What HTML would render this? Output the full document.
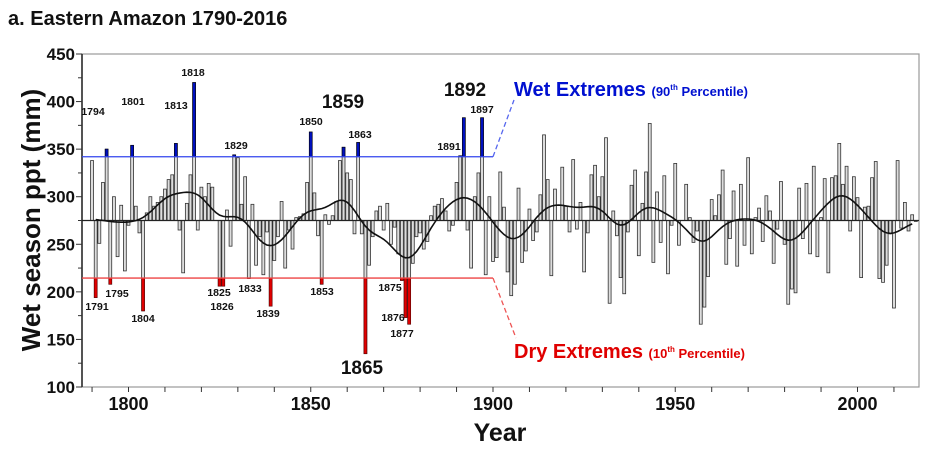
<!DOCTYPE html>
<html><head><meta charset="utf-8"><style>
body{margin:0;background:#fff;width:940px;height:450px;overflow:hidden}
svg{font-family:"Liberation Sans",Arial,sans-serif;font-weight:bold}
</style></head><body>
<svg id="s" width="940" height="450" xmlns="http://www.w3.org/2000/svg"></svg>
<script>
(function(){
var v={1790:338,1791:194,1792:251,1793:315,1794:350,1795:208,1796:300,1797:237,1798:291,1799:222,1800:270,1801:354,1802:290,1803:262,1804:180,1805:283,1806:300,1807:290,1808:294,1809:300,1810:308,1811:318,1812:323,1813:356,1814:265,1815:220,1816:293,1817:323,1818:420,1819:265,1820:310,1821:300,1822:314,1823:310,1824:275,1825:206,1826:206,1827:286,1828:248,1829:344,1830:341,1831:292,1832:321,1833:214,1834:292,1835:228,1836:258,1837:218,1838:263,1839:185,1840:233,1841:258,1842:295,1843:225,1844:265,1845:245,1846:278,1847:279,1848:282,1849:315,1850:368,1851:304,1852:259,1853:208,1854:281,1855:271,1856:280,1857:295,1858:338,1859:352,1860:325,1861:318,1862:261,1863:357,1864:261,1865:135,1866:228,1867:258,1868:285,1869:290,1870:265,1871:293,1872:250,1873:268,1874:240,1875:212,1876:173,1877:166,1878:230,1879:258,1880:262,1881:245,1882:253,1883:280,1884:290,1885:292,1886:298,1887:285,1888:264,1889:270,1890:315,1891:343,1892:383,1893:265,1894:225,1895:300,1896:325,1897:383,1898:218,1899:300,1900:232,
1901:236,1902:326,1903:289,1904:221,1905:196,1906:208,1907:309,1908:231,1909:243,1910:287,1911:254,1912:263,1913:302,1914:365,1915:318,1916:217,1917:308,1918:275,1919:331,1920:290,1921:263,1922:339,1923:266,1924:294,1925:221,1926:262,1927:323,1928:333,1929:300,1930:321,1931:362,1932:188,1933:285,1934:259,1935:215,1936:198,1937:263,1938:312,1939:328,1940:238,1941:293,1942:326,1943:377,1944:231,1945:305,1946:252,1947:322,1948:219,1949:270,1950:335,1951:249,1952:275,1953:313,1954:278,1955:252,1956:264,1957:166,
1958:184,1959:216,1960:297,1961:280,1962:302,1963:328,1964:229,1965:256,1966:306,1967:227,1968:313,1969:249,1970:341,1971:240,1972:278,1973:288,1974:253,1975:301,1976:285,1977:230,1978:266,1979:316,1980:250,1981:187,1982:203,1983:199,1984:309,1985:256,1986:314,1987:240,1988:332,1989:237,1990:278,1991:319,1992:220,1993:320,1994:322,1995:356,1996:313,1997:332,1998:264,1999:321,2000:299,2001:215,2002:289,2003:290,2004:320,2005:337,2006:214,2007:210,2008:228,2009:261,2010:183,2011:338,2012:267,2013:294,2014:264,2015:281,2016:274};
function X(y){return 128.5+3.645*(y-1800)}
function Y(m){return 54+(450-m)*0.9514}
var h='';
h+='<rect x="82" y="54" width="837" height="333" fill="none" stroke="#999" stroke-width="1.2"/>';
h+='<line x1="82" y1="54" x2="82" y2="387" stroke="#222" stroke-width="1.5"/>';
for(var m=100;m<=450;m+=25){var yy=Y(m);h+='<line x1="'+(m%50?78:76)+'" y1="'+yy+'" x2="82" y2="'+yy+'" stroke="#333"/>';
if(m%50==0)h+='<text x="75" y="'+(yy+6)+'" font-size="17" text-anchor="end" fill="#111">'+m+'</text>';}
for(var yr=1790;yr<=2010;yr+=10){var xx=X(yr);h+='<line x1="'+xx+'" y1="387" x2="'+xx+'" y2="392" stroke="#333"/>';
if(yr%50==0)h+='<text x="'+xx+'" y="410" font-size="18" text-anchor="middle" fill="#111">'+yr+'</text>';}
var base=Y(275),tb=Y(342),tr=Y(214.5);
for(var yr=1790;yr<=2016;yr++){var m=v[yr],bx=X(yr)-1.45,w=2.9,yt=Y(m);
var bt=Math.min(yt,base),ht=Math.abs(yt-base);
h+='<rect x="'+bx+'" y="'+bt+'" width="'+w+'" height="'+ht+'" fill="#ddd" stroke="#333" stroke-width="0.8"/>';
if(yr<=1900&&m>342)h+='<rect x="'+bx+'" y="'+yt+'" width="'+w+'" height="'+(tb-yt)+'" fill="#0010c0" stroke="#001" stroke-width="0.6"/>';
if(yr<=1900&&m<214.5)h+='<rect x="'+bx+'" y="'+tr+'" width="'+w+'" height="'+(yt-tr)+'" fill="#e00000" stroke="#600" stroke-width="0.6"/>';}
h+='<line x1="82" y1="'+base+'" x2="919" y2="'+base+'" stroke="#222" stroke-width="1.2"/>';
h+='<line x1="82" y1="'+tb+'" x2="493" y2="'+tb+'" stroke="#3344ee" stroke-width="1.3"/>';
h+='<line x1="82" y1="'+tr+'" x2="493" y2="'+tr+'" stroke="#ee4444" stroke-width="1.3"/>';
h+='<line x1="493" y1="'+tb+'" x2="514" y2="100" stroke="#5566ee" stroke-width="1.3" stroke-dasharray="5,3"/>';
h+='<line x1="493" y1="'+tr+'" x2="516" y2="338" stroke="#ee5555" stroke-width="1.3" stroke-dasharray="5,3"/>';
var pts=[];for(var yr=1791;yr<=2015;yr++){var s=0,ws=0;for(var k=-12;k<=12;k++){var q=v[yr+k];if(q===undefined)continue;var wt=Math.exp(-k*k/(2*16));s+=q*wt;ws+=wt;}pts.push(X(yr).toFixed(1)+','+Y(s/ws).toFixed(1));}
h+='<polyline points="'+pts.join(' ')+'" fill="none" stroke="#111" stroke-width="1.6"/>';
var L=[[1818,193,76],[1794,93,115],[1801,133,105],[1813,176,109],[1829,236,149],[1850,311,125],[1863,360,138],[1891,449,150],[1897,482,113],[1791,97,310],[1795,117,297],[1804,143,322],[1825,219,296],[1826,222,310],[1833,250,292],[1839,268,317],[1853,322,295],[1875,390,291],[1876,393,321],[1877,402,337]];
L.forEach(function(a){h+='<text x="'+a[1]+'" y="'+a[2]+'" font-size="10.5" text-anchor="middle" fill="#111">'+a[0]+'</text>';});
h+='<text x="343" y="108" font-size="19" text-anchor="middle" fill="#111">1859</text>';
h+='<text x="465" y="96" font-size="19" text-anchor="middle" fill="#111">1892</text>';
h+='<text x="362" y="374" font-size="19" text-anchor="middle" fill="#111">1865</text>';
h+='<text x="514" y="96" font-size="20" fill="#0010d0">Wet Extremes <tspan font-size="13">(90</tspan><tspan font-size="8" dy="-6">th</tspan><tspan font-size="13" dy="6"> Percentile)</tspan></text>';
h+='<text x="514" y="358" font-size="20" fill="#e00000">Dry Extremes <tspan font-size="13">(10</tspan><tspan font-size="8" dy="-6">th</tspan><tspan font-size="13" dy="6"> Percentile)</tspan></text>';
h+='<text x="8" y="25" font-size="20" fill="#111">a. Eastern Amazon 1790-2016</text>';
h+='<text x="500" y="441" font-size="25" text-anchor="middle" fill="#111">Year</text>';
h+='<text transform="translate(40,220) rotate(-90)" font-size="26" text-anchor="middle" fill="#111">Wet season ppt (mm)</text>';
document.getElementById('s').innerHTML=h;
})();
</script>
</body></html>
